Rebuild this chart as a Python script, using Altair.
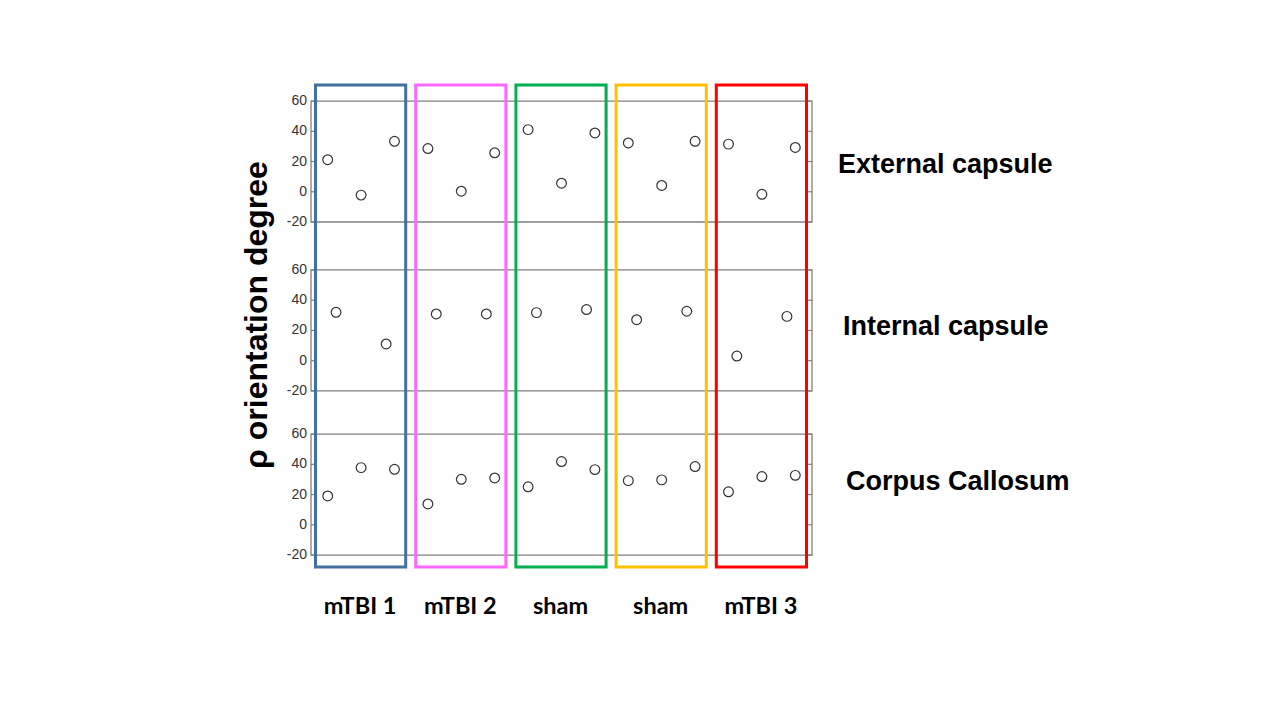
import altair as alt
import pandas as pd

# ---------------- data ----------------
groups = ["mTBI 1", "mTBI 2", "sham", "sham", "mTBI 3"]
group_colors = ["#41719C", "#FF66FF", "#00B050", "#FFC000", "#FF0000"]
regions = ["External capsule", "Internal capsule", "Corpus Callosum"]

external_capsule = [21.2, -2.2, 33.4, 28.6, 0.4, 25.8, 41.1, 5.7, 38.9,
                    32.3, 4.2, 33.4, 31.5, -1.7, 29.3]
internal_capsule = [32.0, 11.1, 30.9, 30.9, 31.8, 33.8, 27.1, 32.7, 3.1, 29.3]
corpus_callosum = [19.1, 37.8, 36.7, 13.8, 30.1, 31.0, 25.1, 41.8, 36.5,
                   29.2, 29.7, 38.5, 21.8, 31.9, 32.7]
tick_values = [-20, 0, 20, 40, 60]
y_title = "ρ orientation degree"

# ---------------- layout ----------------
PANEL_SHIFT = [0.0, -111.7, -220.2]      # vertical stacking of the panels (y units)
GMIN, GMAX = -248.1, 70.6
XMAX = 30
W, H = 501, 482
PAD_L, PAD_T = 303, 77
REGION_LABEL_POS = [(527, 80), (532, 242), (535, 397)]  # px, relative to plot
FRAME = "#808080"

series = [external_capsule, internal_capsule, corpus_callosum]
rows = []
for p, vals in enumerate(series):
    for i, v in enumerate(vals):
        rows.append({"panel": p, "idx": i, "n": len(vals), "value": v,
                     "shift": PANEL_SHIFT[p]})
pts = pd.DataFrame(rows)

frames = pd.DataFrame({"panel": [0, 1, 2], "shift": PANEL_SHIFT})
frames["top"] = 60 + frames["shift"]
frames["bot"] = -20 + frames["shift"]
frames["xa"] = 0
frames["xb"] = XMAX

ticks = pd.DataFrame([{"panel": p, "v": v, "label": str(v), "gy": v + PANEL_SHIFT[p],
                       "xa": 0, "xb": XMAX}
                      for p in range(3) for v in tick_values])

boxes = pd.DataFrame({"gid": list(range(len(groups))), "name": groups})
boxes["xa"] = boxes["gid"] * 6
boxes["xb"] = boxes["gid"] * 6 + 6
boxes["xc"] = boxes["gid"] * 6 + 3
boxes["top"] = GMAX
boxes["bot"] = GMIN

xs = alt.Scale(domain=[0, XMAX], nice=False, zero=False)
ys = alt.Scale(domain=[GMIN, GMAX], nice=False, zero=False)

frame_layer = alt.Chart(frames).mark_rect(
    fillOpacity=0, stroke=FRAME, strokeWidth=1.3
).encode(
    x=alt.X("xa:Q", scale=xs, axis=None), x2="xb:Q",
    y=alt.Y("top:Q", scale=ys, axis=None), y2="bot:Q"
)

tick_left = alt.Chart(ticks).mark_rule(color=FRAME, strokeWidth=1.2, x2Offset=5).encode(
    x=alt.X("xa:Q", scale=xs, axis=None), x2="xa:Q",
    y=alt.Y("gy:Q", scale=ys, axis=None)
)
tick_right = alt.Chart(ticks).mark_rule(color=FRAME, strokeWidth=1.2, xOffset=-5).encode(
    x=alt.X("xb:Q", scale=xs, axis=None), x2="xb:Q",
    y=alt.Y("gy:Q", scale=ys, axis=None)
)
tick_labels = alt.Chart(ticks).mark_text(
    align="right", baseline="middle", xOffset=-4, font="Liberation Sans",
    fontSize=14, color="#333333"
).encode(
    x=alt.X("xa:Q", scale=xs, axis=None),
    y=alt.Y("gy:Q", scale=ys, axis=None),
    text="label:N"
)

points = alt.Chart(pts).transform_calculate(
    xpos=f"(datum.idx + 0.5) * {XMAX} / datum.n",
    gy="datum.value + datum.shift"
).mark_point(shape="circle", filled=False, size=95, stroke="#333333",
             strokeWidth=1.2, opacity=1).encode(
    x=alt.X("xpos:Q", scale=xs, axis=None),
    y=alt.Y("gy:Q", scale=ys, axis=None)
)

box_layer = alt.Chart(boxes).mark_rect(
    fillOpacity=0, strokeWidth=3, xOffset=4.5, x2Offset=-5.5
).encode(
    x=alt.X("xa:Q", scale=xs, axis=None), x2="xb:Q",
    y=alt.Y("top:Q", scale=ys, axis=None), y2="bot:Q",
    stroke=alt.Stroke("gid:N", scale=alt.Scale(domain=list(range(len(groups))),
                                               range=group_colors), legend=None)
)

group_labels = alt.Chart(boxes).mark_text(
    font="Lato", fontWeight="bold", fontSize=23.5, color="black",
    baseline="middle", align="center", dx=-1
).encode(
    x=alt.X("xc:Q", scale=xs, axis=None),
    y=alt.value(522),
    text="name:N"
)

region_layers = []
for name, (px, py) in zip(regions, REGION_LABEL_POS):
    region_layers.append(
        alt.Chart(pd.DataFrame({"t": [name]})).mark_text(
            font="Liberation Sans", fontWeight="bold", fontSize=27, color="black",
            align="left", baseline="middle"
        ).encode(x=alt.value(px), y=alt.value(py), text="t:N")
    )

title_layer = alt.Chart(pd.DataFrame({"t": [y_title]})).mark_text(
    font="Liberation Sans", fontWeight="bold", fontSize=32, color="black",
    angle=270, align="center", baseline="middle"
).encode(x=alt.value(-54), y=alt.value(230), text="t:N")

chart = alt.layer(
    frame_layer, tick_left, tick_right, tick_labels, points, box_layer,
    group_labels, *region_layers, title_layer
).properties(
    width=W, height=H,
    autosize=alt.AutoSizeParams(type="none"),
    padding={"left": PAD_L, "top": PAD_T, "right": 1264 - PAD_L - W,
             "bottom": 704 - PAD_T - H}
).configure_view(stroke=None)

chart.save("out.html", embed_options={"renderer": "svg", "actions": False})
